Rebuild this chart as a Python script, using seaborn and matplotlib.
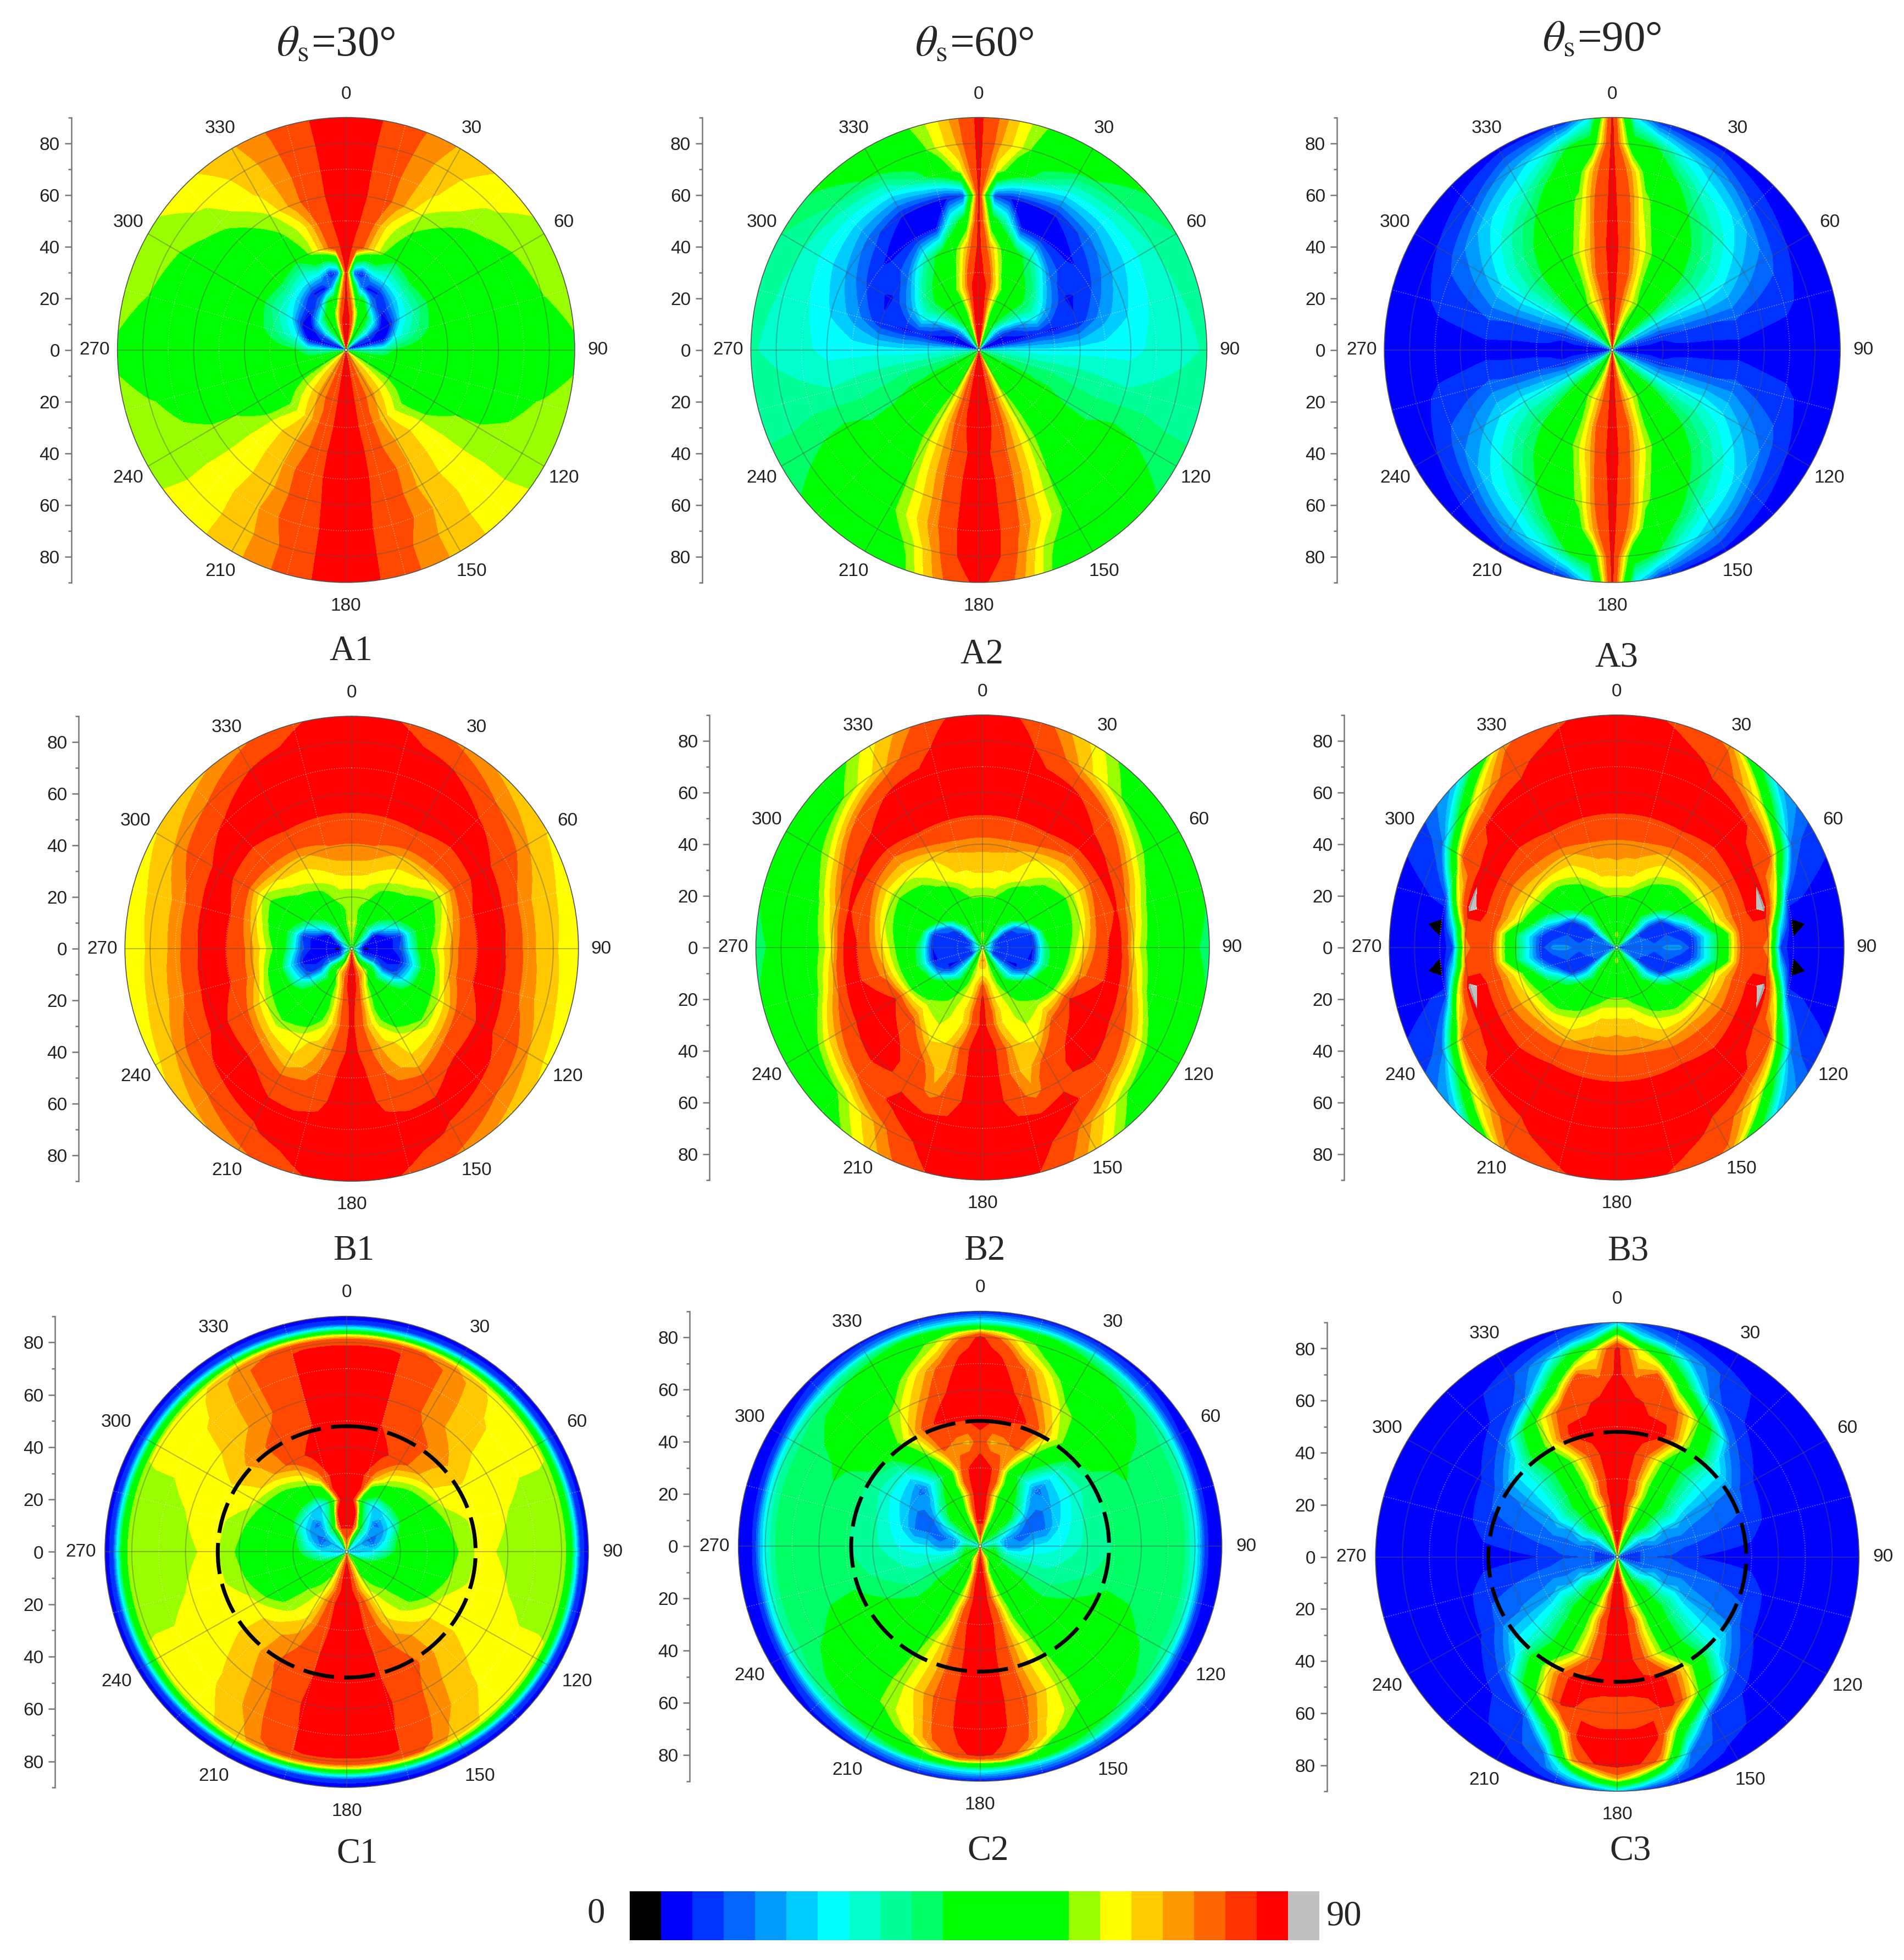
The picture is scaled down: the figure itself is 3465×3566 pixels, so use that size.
import numpy as np
import matplotlib
matplotlib.use("Agg")
import matplotlib.pyplot as plt
from matplotlib.colors import ListedColormap
import seaborn as sns

# angles of the right half (the panels are mirrored about the 0-180 line)
THETA = [0, 6, 12, 20, 30, 45, 60, 75, 90, 105, 120, 135, 150, 160, 168, 174, 180]
THETA_B3 = [0, 6, 12, 20, 30, 45, 60, 75, 83, 90, 97, 105, 120, 135, 150, 160, 168, 174, 180]
RADII = [0, 5, 10, 15, 20, 25, 30, 40, 50, 60, 70, 80, 90]
RADII_B2 = [0, 5, 10, 15, 20, 25, 30, 40, 50, 55, 60, 70, 80, 90]
RADII_B3 = [0, 5, 10, 15, 20, 25, 30, 40, 50, 55, 60, 65, 70, 80, 90]
RADII_C1 = [0, 5, 10, 15, 20, 25, 30, 40, 50, 60, 70, 78, 81, 83, 85, 87, 90]
RADII_C2 = [0, 5, 10, 15, 20, 25, 30, 40, 50, 60, 70, 76, 80, 82, 84, 86, 90]
RADII_C3 = [0, 5, 10, 15, 20, 25, 30, 40, 50, 60, 70, 80, 85, 90]

A1 = [
    [84, 84, 72, 55, 42, 25, 7, 6, 28, 45, 56, 65, 71, 75, 80, 84, 84],
    [84, 84, 78, 60, 46, 28, 12, 6, 30, 45, 56, 65, 71, 75, 80, 84, 84],
    [84, 84, 74, 57, 47, 33, 12, 6, 32, 45, 55, 65, 71, 75, 80, 84, 84],
    [84, 80, 65, 52, 46, 25, 7, 6, 34, 46, 55, 64, 71, 75, 80, 84, 84],
    [84, 70, 50, 44, 18, 6, 8, 26, 42, 48, 55, 63, 71, 75, 80, 84, 84],
    [84, 55, 20, 6, 7, 18, 26, 32, 44, 49, 53, 61, 69, 74, 80, 84, 84],
    [84, 14, 8, 22, 24, 29, 32, 38, 45, 49, 50, 58, 67, 74, 80, 84, 84],
    [84, 80, 70, 60, 43, 49, 45, 46, 49, 49, 49, 63, 69, 74, 81, 84, 84],
    [84, 82, 75, 63, 56, 49, 49, 49, 49, 49, 57, 63, 69, 76, 81, 84, 84],
    [84, 84, 77, 72, 61, 54, 49, 49, 49, 49, 58, 63, 68, 75, 80, 84, 84],
    [84, 84, 78, 72, 66, 59, 55, 49, 49, 55, 59, 63, 69, 75, 79, 84, 84],
    [84, 84, 79, 73, 67, 62, 59, 57, 49, 58, 59, 63, 68, 73, 79, 84, 84],
    [84, 84, 80, 74, 69, 64, 60, 60, 56, 59, 60, 63, 68, 73, 79, 84, 84],
]
A2 = [
    [84, 84, 66, 52, 38, 18, 8, 6, 27, 35, 41, 50, 57, 72, 81, 84, 84],
    [84, 84, 68, 52, 38, 18, 8, 6, 27, 36, 42, 50, 57, 72, 81, 84, 84],
    [84, 84, 68, 52, 40, 20, 8, 6, 27, 36, 43, 50, 57, 72, 81, 84, 84],
    [84, 84, 66, 52, 46, 32, 12, 6, 27, 36, 43, 50, 57, 72, 81, 84, 84],
    [84, 82, 68, 55, 47, 38, 20, 7, 26, 36, 43, 50, 58, 72, 81, 84, 84],
    [84, 82, 70, 58, 48, 40, 28, 8, 26, 36, 42, 50, 59, 72, 81, 84, 84],
    [84, 80, 66, 52, 46, 36, 20, 7, 26, 36, 42, 48, 60, 72, 80, 84, 84],
    [84, 70, 58, 47, 36, 15, 7, 9, 27, 35, 40, 47, 60, 70, 77, 82, 84],
    [84, 50, 35, 7, 7, 7, 11, 18, 27, 34, 40, 45, 58, 69, 77, 83, 84],
    [84, 12, 8, 8, 8, 14, 20, 24, 27, 33, 42, 47, 56, 67, 76, 83, 84],
    [84, 63, 48, 37, 27, 26, 27, 29, 30, 34, 41, 48, 55, 66, 75, 83, 84],
    [84, 70, 62, 48, 43, 37, 33, 32, 32, 34, 39, 46, 49, 59, 72, 82, 84],
    [84, 72, 63, 55, 49, 42, 37, 35, 33, 35, 38, 43, 48, 55, 69, 78, 84],
]
A3 = [
    [84, 78, 66, 58, 47, 35, 22, 11, 6, 11, 22, 35, 47, 58, 66, 78, 84],
    [84, 79, 68, 59, 49, 37, 23, 10, 6, 10, 23, 37, 49, 59, 68, 79, 84],
    [84, 80, 70, 60, 52, 40, 24, 10, 6, 10, 24, 40, 52, 60, 70, 80, 84],
    [84, 80, 71, 62, 54, 42, 24, 10, 6, 10, 24, 42, 54, 62, 71, 80, 84],
    [84, 80, 72, 64, 56, 44, 24, 9, 6, 9, 24, 44, 56, 64, 72, 80, 84],
    [84, 80, 73, 63, 52, 43, 25, 11, 6, 11, 25, 43, 52, 63, 73, 80, 84],
    [84, 80, 74, 62, 49, 42, 26, 12, 6, 12, 26, 42, 49, 62, 74, 80, 84],
    [84, 80, 70, 60, 50, 40, 28, 12, 6, 12, 28, 40, 50, 60, 70, 80, 84],
    [84, 78, 65, 54, 47, 36, 25, 13, 6, 13, 25, 36, 47, 54, 65, 78, 84],
    [84, 75, 60, 50, 41, 30, 19, 10, 6, 10, 19, 30, 41, 50, 60, 75, 84],
    [84, 70, 50, 43, 31, 23, 14, 9, 6, 9, 14, 23, 31, 43, 50, 70, 84],
    [84, 48, 43, 28, 20, 10, 8, 7, 6, 7, 8, 10, 20, 28, 43, 48, 84],
    [84, 26, 10, 6, 6, 6, 6, 6, 6, 6, 6, 6, 6, 6, 10, 26, 84],
]
B1 = [
    [55, 55, 52, 50, 45, 42, 40, 40, 40, 42, 45, 50, 58, 66, 72, 78, 80],
    [62, 60, 55, 50, 45, 35, 22, 8, 2, 6, 14, 30, 50, 63, 72, 80, 84],
    [60, 62, 56, 50, 45, 30, 7, 5, 6, 7, 18, 46, 63, 71, 76, 84, 84],
    [59, 59, 55, 55, 50, 40, 24, 6, 6, 6, 10, 35, 50, 63, 73, 82, 84],
    [60, 60, 60, 57, 52, 49, 38, 12, 14, 7, 14, 42, 50, 60, 70, 80, 84],
    [62, 62, 62, 60, 56, 49, 47, 38, 36, 24, 30, 48, 50, 58, 70, 78, 84],
    [67, 67, 66, 64, 62, 58, 50, 50, 55, 47, 49, 49, 50, 60, 69, 77, 84],
    [73, 73, 73, 71, 68, 67, 60, 67, 71, 70, 62, 58, 64, 67, 73, 80, 84],
    [81, 81, 81, 81, 81, 79, 80, 82, 82, 82, 77, 72, 66, 71, 76, 83, 84],
    [84, 84, 84, 84, 84, 84, 84, 84, 83, 84, 84, 84, 78, 77, 80, 84, 84],
    [84, 84, 84, 84, 84, 83, 78, 71, 71, 72, 79, 84, 84, 84, 84, 84, 84],
    [84, 84, 84, 84, 82, 74, 70, 67, 66, 67, 70, 74, 81, 84, 84, 84, 84],
    [84, 84, 82, 77, 72, 68, 65, 63, 63, 63, 64, 68, 72, 77, 82, 84, 84],
]
B2 = [
    [55, 55, 52, 50, 49, 47, 45, 40, 40, 40, 45, 47, 52, 57, 60, 60, 60],
    [60, 58, 52, 49, 47, 30, 18, 10, 14, 10, 8, 26, 49, 55, 68, 70, 70],
    [49, 49, 49, 49, 46, 32, 8, 8, 10, 10, 8, 24, 46, 58, 62, 63, 63],
    [49, 49, 49, 49, 49, 45, 15, 10, 12, 10, 7, 26, 47, 60, 65, 70, 76],
    [58, 58, 58, 54, 49, 49, 42, 10, 8, 7, 20, 49, 56, 62, 66, 74, 84],
    [63, 63, 63, 60, 53, 49, 49, 43, 37, 35, 46, 52, 59, 63, 68, 78, 84],
    [66, 66, 65, 65, 62, 53, 49, 49, 49, 49, 49, 59, 60, 63, 67, 78, 84],
    [71, 71, 71, 70, 66, 63, 59, 61, 66, 71, 82, 76, 63, 66, 75, 84, 84],
    [81, 81, 81, 81, 81, 74, 75, 81, 82, 82, 84, 84, 76, 67, 74, 84, 84],
    [84, 84, 84, 84, 84, 84, 84, 82, 82, 84, 84, 84, 80, 69, 76, 84, 84],
    [84, 84, 84, 84, 84, 84, 80, 70, 65, 72, 80, 84, 80, 71, 77, 84, 84],
    [84, 84, 84, 84, 84, 75, 62, 52, 49, 52, 66, 74, 84, 84, 84, 84, 84],
    [84, 84, 84, 78, 68, 56, 49, 49, 45, 49, 49, 58, 72, 82, 84, 84, 84],
    [84, 84, 80, 72, 64, 49, 47, 42, 38, 42, 47, 50, 67, 77, 84, 84, 84],
]
B3 = [
    [49, 49, 49, 47, 45, 40, 30, 15, 10, 10, 10, 15, 30, 40, 45, 47, 49, 49, 49],
    [60, 58, 52, 49, 46, 34, 20, 12, 13, 14, 13, 12, 20, 34, 46, 49, 52, 58, 60],
    [49, 49, 49, 49, 49, 36, 10, 14, 14, 14, 14, 14, 10, 36, 49, 49, 49, 49, 49],
    [49, 49, 49, 49, 49, 32, 8, 10, 12, 14, 12, 10, 8, 32, 49, 49, 49, 49, 49],
    [58, 58, 56, 49, 49, 44, 12, 12, 14, 18, 14, 12, 12, 44, 49, 49, 56, 58, 58],
    [63, 63, 63, 60, 52, 49, 36, 8, 12, 18, 12, 8, 36, 49, 52, 60, 63, 63, 63],
    [68, 67, 67, 64, 60, 52, 49, 22, 10, 10, 10, 22, 49, 52, 60, 64, 67, 67, 68],
    [72, 72, 72, 71, 68, 68, 66, 62, 40, 42, 40, 62, 66, 68, 68, 71, 72, 72, 72],
    [81, 81, 81, 81, 81, 78, 76, 78, 78, 77, 78, 78, 76, 78, 81, 81, 81, 81, 81],
    [83, 83, 83, 83, 83, 82, 84, 84, 80, 78, 80, 84, 84, 82, 83, 83, 83, 83, 83],
    [84, 84, 84, 84, 84, 84, 84, 88, 76, 70, 76, 88, 84, 84, 84, 84, 84, 84, 84],
    [84, 84, 84, 84, 84, 84, 79, 62, 26, 10, 26, 62, 79, 84, 84, 84, 84, 84, 84],
    [84, 84, 84, 84, 84, 83, 76, 10, 2, 6, 2, 10, 76, 83, 84, 84, 84, 84, 84],
    [84, 84, 84, 84, 80, 62, 14, 7, 6, 6, 6, 7, 14, 62, 80, 84, 84, 84, 84],
    [84, 84, 82, 78, 72, 22, 10, 6, 6, 6, 6, 6, 10, 22, 72, 78, 82, 84, 84],
]
C1 = [
    [63, 63, 60, 45, 30, 26, 24, 24, 24, 24, 26, 45, 60, 66, 70, 72, 72],
    [74, 72, 68, 50, 35, 26, 22, 24, 24, 26, 40, 49, 60, 68, 74, 80, 84],
    [84, 84, 84, 68, 42, 24, 14, 16, 26, 36, 47, 50, 57, 68, 76, 84, 84],
    [84, 84, 84, 45, 30, 14, 18, 26, 34, 46, 49, 53, 60, 68, 77, 84, 84],
    [84, 84, 60, 36, 22, 26, 30, 43, 47, 49, 50, 57, 63, 73, 82, 84, 84],
    [84, 84, 82, 52, 46, 46, 49, 49, 49, 49, 50, 59, 64, 74, 82, 84, 84],
    [84, 84, 82, 70, 59, 52, 49, 49, 49, 49, 52, 60, 66, 75, 82, 84, 84],
    [84, 84, 84, 84, 76, 68, 63, 58, 56, 58, 63, 67, 72, 76, 84, 84, 84],
    [84, 84, 84, 78, 76, 71, 65, 63, 63, 63, 64, 67, 75, 78, 84, 84, 84],
    [84, 84, 84, 78, 72, 67, 63, 62, 60, 62, 63, 66, 72, 80, 84, 84, 84],
    [84, 84, 84, 78, 72, 66, 63, 59, 59, 59, 63, 65, 71, 78, 84, 84, 84],
    [84, 84, 84, 78, 72, 64, 63, 59, 59, 59, 63, 63, 69, 77, 84, 84, 84],
    [76, 76, 76, 74, 70, 63, 62, 60, 60, 60, 62, 63, 68, 74, 76, 76, 76],
    [60, 60, 60, 60, 58, 55, 52, 50, 50, 50, 52, 55, 58, 60, 60, 60, 60],
    [32, 32, 30, 30, 30, 30, 30, 30, 30, 30, 30, 30, 30, 30, 30, 32, 32],
    [10, 10, 10, 10, 10, 10, 10, 10, 10, 10, 10, 10, 10, 10, 10, 10, 10],
    [6, 6, 6, 6, 6, 6, 6, 6, 6, 6, 6, 6, 6, 6, 6, 6, 6],
]
C2 = [
    [63, 63, 55, 49, 40, 28, 26, 26, 26, 30, 41, 49, 55, 62, 70, 76, 76],
    [76, 74, 66, 49, 47, 42, 36, 30, 40, 42, 45, 50, 60, 66, 72, 80, 84],
    [84, 84, 70, 58, 49, 44, 30, 18, 16, 30, 38, 44, 49, 56, 70, 82, 84],
    [84, 84, 72, 58, 49, 44, 24, 14, 18, 30, 36, 44, 49, 57, 72, 84, 84],
    [84, 84, 70, 55, 47, 36, 16, 16, 25, 31, 37, 44, 49, 59, 72, 84, 84],
    [84, 84, 78, 58, 45, 22, 14, 16, 27, 31, 36, 43, 49, 62, 78, 84, 84],
    [84, 84, 78, 56, 36, 14, 20, 24, 28, 33, 37, 43, 49, 63, 80, 84, 84],
    [80, 68, 70, 76, 56, 30, 30, 33, 34, 36, 41, 48, 55, 67, 78, 84, 84],
    [84, 84, 84, 82, 68, 47, 38, 38, 37, 39, 45, 49, 58, 68, 78, 84, 84],
    [84, 84, 82, 72, 61, 49, 42, 39, 38, 39, 43, 49, 59, 70, 79, 84, 84],
    [84, 84, 76, 65, 50, 46, 39, 38, 38, 38, 40, 47, 59, 66, 78, 84, 84],
    [84, 80, 66, 55, 46, 42, 38, 38, 37, 38, 38, 42, 49, 64, 76, 82, 84],
    [84, 72, 60, 52, 44, 38, 34, 30, 28, 30, 34, 38, 44, 52, 70, 80, 84],
    [70, 62, 52, 46, 40, 32, 26, 22, 20, 22, 26, 32, 40, 46, 60, 70, 70],
    [46, 44, 42, 40, 34, 22, 14, 10, 9, 10, 14, 22, 34, 40, 42, 46, 46],
    [28, 26, 24, 22, 18, 12, 8, 7, 7, 7, 8, 12, 18, 22, 24, 26, 28],
    [6, 6, 6, 6, 6, 6, 6, 6, 6, 6, 6, 6, 6, 6, 6, 6, 6],
]
C3 = [
    [70, 66, 58, 48, 34, 22, 16, 10, 8, 10, 16, 22, 34, 48, 58, 66, 70],
    [84, 78, 62, 52, 40, 26, 18, 10, 8, 10, 18, 26, 38, 50, 62, 78, 84],
    [84, 84, 66, 55, 44, 28, 18, 13, 14, 13, 18, 28, 44, 55, 66, 84, 84],
    [84, 84, 75, 58, 49, 38, 24, 15, 12, 15, 24, 38, 49, 58, 75, 84, 84],
    [84, 84, 72, 60, 50, 36, 20, 14, 12, 14, 20, 36, 50, 60, 72, 84, 84],
    [84, 84, 78, 63, 49, 38, 22, 14, 10, 14, 22, 38, 49, 63, 78, 84, 84],
    [84, 84, 76, 62, 49, 34, 18, 14, 8, 14, 18, 34, 49, 62, 76, 84, 84],
    [84, 84, 80, 66, 48, 30, 17, 12, 7, 12, 17, 30, 49, 64, 78, 84, 84],
    [84, 84, 84, 84, 62, 30, 14, 11, 6, 11, 14, 30, 66, 84, 84, 84, 84],
    [84, 84, 80, 78, 58, 14, 7, 6, 6, 6, 7, 14, 58, 84, 80, 78, 78],
    [84, 72, 80, 50, 14, 7, 6, 6, 6, 6, 6, 7, 12, 50, 84, 84, 84],
    [84, 62, 45, 20, 11, 6, 6, 6, 6, 6, 6, 6, 10, 16, 70, 82, 84],
    [60, 26, 16, 10, 7, 6, 6, 6, 6, 6, 6, 6, 7, 12, 30, 55, 70],
    [22, 10, 8, 6, 6, 6, 6, 6, 6, 6, 6, 6, 6, 6, 8, 10, 22],
]

LEVELS = list(np.linspace(0, 90, 23))
BAR_COLORS = ["#000000", "#0000ff", "#0033ff", "#0066ff", "#0099ff", "#00ccff", "#00ffff", "#00ffcc",
              "#00ff99", "#00ff66", "#00ff00", "#00ff00", "#00ff00", "#00ff00", "#99ff00", "#ffff00",
              "#ffcc00", "#ff9900", "#ff6600", "#ff3300", "#ff0000", "#c0c0c0"]
# in the panels the oranges are merged a bit differently from the bar
MAP_COLORS = list(BAR_COLORS)
MAP_COLORS[16:20] = ["#ffc800", "#ff8c00", "#ff4800", "#ff4800"]

ANGLE_LABELS = [0, 30, 60, 90, 120, 150, 180, 210, 240, 270, 300, 330]
DASH_RADIUS = 48

W, H = 1524.0, 1568.0  # layout measured on the shrunk picture

# name, values, angles, radii, left, right, top, bottom, radial axis x, label x, label y
PANELS = [
    ("A1", A1, THETA, RADII, 94, 460, 94, 466, 57, 281, 521),
    ("A2", A2, THETA, RADII, 601, 966, 94, 466, 562, 786, 524),
    ("A3", A3, THETA, RADII, 1108, 1473, 94, 466, 1070, 1294, 526),
    ("B1", B1, THETA, RADII, 100, 463, 573, 945, 63, 283, 1001),
    ("B2", B2, THETA, RADII_B2, 605, 968, 572, 944, 568, 788, 1001),
    ("B3", B3, THETA_B3, RADII_B3, 1112, 1476, 572, 944, 1076, 1303, 1001),
    ("C1", C1, THETA, RADII_C1, 84, 471, 1053, 1430, 44, 286, 1483),
    ("C2", C2, THETA, RADII_C2, 591, 978, 1049, 1425, 552, 791, 1481),
    ("C3", C3, THETA, RADII_C3, 1101, 1488, 1058, 1433, 1062, 1305, 1481),
]
TITLES = [(r"$\theta_{\mathrm{s}}$=30°", 269, 36), (r"$\theta_{\mathrm{s}}$=60°", 780, 36),
          (r"$\theta_{\mathrm{s}}$=90°", 1282, 32)]

sns.set_theme(style="white")
plt.rcParams["font.family"] = ["Liberation Sans", "DejaVu Sans"]
plt.rcParams["mathtext.fontset"] = "stix"
SERIF = ["Liberation Serif", "DejaVu Serif"]

map_cmap = ListedColormap(sns.color_palette(MAP_COLORS, n_colors=22))
bar_cmap = ListedColormap(sns.color_palette(BAR_COLORS, n_colors=22))

fig = plt.figure(figsize=(11.55, 11.887), dpi=300)


def box(left, right, top, bottom):
    return [left / W, 1 - bottom / H, (right - left) / W, (bottom - top) / H]


for name, values, angles, radii, left, right, top, bottom, axis_x, lab_x, lab_y in PANELS:
    ax = fig.add_axes(box(left, right, top, bottom), projection="polar")
    ax.set_aspect("auto")
    ax.set_theta_zero_location("N")
    ax.set_theta_direction(-1)

    half = np.array(values, dtype=float)
    field = np.hstack([half, half[:, -2::-1]])
    th = np.deg2rad(list(angles) + [360 - a for a in angles[-2::-1]])
    cs = ax.contourf(th, radii, field, levels=LEVELS, cmap=map_cmap, zorder=1)
    # bend the contour edges with the polar scale instead of drawing chords
    for p in cs.get_paths():
        p._interpolation_steps = 12

    ax.set_rlim(0, 90)
    ax.set_xticks(np.deg2rad(ANGLE_LABELS))
    ax.set_xticks(np.deg2rad(np.arange(15, 360, 30)), minor=True)
    ax.set_yticks([20, 40, 60, 80])
    ax.set_yticks([10, 30, 50, 70], minor=True)
    ax.set_xticklabels([])
    ax.set_yticklabels([])
    ax.tick_params(which="both", length=0)
    ax.set_axisbelow(False)
    ax.grid(True, which="major", color="#555555", lw=0.5, alpha=0.4)
    ax.grid(True, which="minor", color="white", lw=0.4, ls=":", alpha=0.45)
    ax.spines["polar"].set_linewidth(0.4)
    ax.spines["polar"].set_color("#555555")

    for a in ANGLE_LABELS:
        ax.text(np.deg2rad(a), 99, str(a), ha="center", va="center", fontsize=8,
                color="#222222", clip_on=False)

    if name[0] == "C":
        ax.plot(np.linspace(0, 2 * np.pi, 361), [DASH_RADIUS] * 361, color="black", lw=1.7,
                dashes=(8, 2.6), zorder=5)

    # the radial scale stands apart on the left
    rax = fig.add_axes(box(axis_x, axis_x + 1, top, bottom))
    rax.patch.set_alpha(0)
    rax.set_ylim(-90, 90)
    rax.set_xticks([])
    rax.set_yticks([-80, -60, -40, -20, 0, 20, 40, 60, 80])
    rax.set_yticklabels(["80", "60", "40", "20", "0", "20", "40", "60", "80"], fontsize=8, color="#222222")
    rax.set_yticks([-90, -70, -50, -30, -10, 10, 30, 50, 70, 90], minor=True)
    sns.despine(ax=rax, top=True, right=True, bottom=True)
    rax.spines["left"].set_color("#777777")
    rax.spines["left"].set_linewidth(0.6)
    rax.tick_params(axis="y", which="major", length=3, width=0.6, color="#777777", pad=2, left=True)
    rax.tick_params(axis="y", which="minor", length=1.5, width=0.6, color="#777777", left=True)

    fig.text(lab_x / W, 1 - lab_y / H, name, ha="center", va="center", fontsize=15.5, family=SERIF)

for text, x, y in TITLES:
    fig.text(x / W, 1 - y / H, text, ha="center", va="center", fontsize=19, family=SERIF)

# colour bar strip
cax = fig.add_axes(box(504, 1056, 1513, 1552))
cells = np.array(LEVELS[:-1]).reshape(1, -1)
sns.heatmap(cells, ax=cax, cmap=bar_cmap, cbar=False, xticklabels=False, yticklabels=False)
fig.text(477 / W, 1 - 1531 / H, "0", ha="center", va="center", fontsize=15.5, family=SERIF)
fig.text(1076 / W, 1 - 1533 / H, "90", ha="center", va="center", fontsize=15.5, family=SERIF)

fig.savefig("out.png", dpi=300, facecolor="white")
